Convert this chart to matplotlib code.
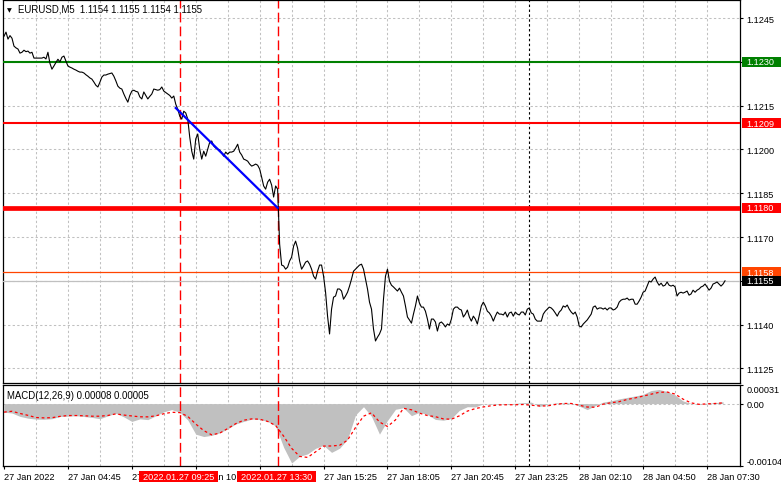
import numpy as np
import matplotlib
matplotlib.use('Agg')
import matplotlib.pyplot as plt
from matplotlib.patches import Rectangle
import matplotlib.transforms as mtransforms

plt.rcParams['font.family'] = ['Liberation Sans', 'DejaVu Sans']

# ---------------- data ----------------
symbol_title = "EURUSD,M5  1.1154 1.1155 1.1154 1.1155"
macd_title = "MACD(12,26,9) 0.00008 0.00005"

# M5 closes, one per bar (bar 0 = first visible bar)
close = [
    1.12388, 1.12402, 1.12378, 1.12390, 1.12381, 1.12354, 1.12348, 1.12344, 1.12330, 1.12333,
    1.12340, 1.12335, 1.12337, 1.12330, 1.12333, 1.12313, 1.12313, 1.12313, 1.12313, 1.12313,
    1.12316, 1.12310, 1.12333, 1.12295, 1.12275, 1.12286, 1.12298, 1.12309, 1.12300, 1.12316,
    1.12320, 1.12303, 1.12286, 1.12282, 1.12279, 1.12275, 1.12272, 1.12268, 1.12265, 1.12265,
    1.12262, 1.12256, 1.12251, 1.12245, 1.12241, 1.12231, 1.12220, 1.12214, 1.12230, 1.12248,
    1.12255, 1.12255, 1.12258, 1.12260, 1.12262, 1.12251, 1.12235, 1.12217, 1.12210, 1.12207,
    1.12190, 1.12175, 1.12162, 1.12185, 1.12200, 1.12203, 1.12199, 1.12197, 1.12180, 1.12173,
    1.12197, 1.12185, 1.12173, 1.12182, 1.12190, 1.12207, 1.12205, 1.12203, 1.12205, 1.12214,
    1.12200, 1.12195, 1.12190, 1.12185, 1.12176, 1.12183, 1.12155, 1.12138, 1.12114, 1.12104,
    1.12131, 1.12125, 1.12104, 1.12042, 1.11994, 1.11967, 1.12036, 1.12053, 1.12001, 1.11967,
    1.11994, 1.11977, 1.12001, 1.12025, 1.12029, 1.12012, 1.12005, 1.12001, 1.11998, 1.11988,
    1.11977, 1.11991, 1.11984, 1.11991, 1.11991, 1.11994, 1.12005, 1.12018, 1.11991, 1.11981,
    1.11967, 1.11964, 1.11960, 1.11950, 1.11943, 1.11946, 1.11950, 1.11946, 1.11933, 1.11905,
    1.11875, 1.11864, 1.11888, 1.11898, 1.11878, 1.11837, 1.11875, 1.11864, 1.11676, 1.11604,
    1.11601, 1.11590, 1.11597, 1.11618, 1.11631, 1.11669, 1.11686, 1.11662, 1.11618, 1.11590,
    1.11601, 1.11614, 1.11618, 1.11607, 1.11590, 1.11566, 1.11556, 1.11583, 1.11604, 1.11604,
    1.11566, 1.11511, 1.11429, 1.11368, 1.11453, 1.11494, 1.11498, 1.11522, 1.11522, 1.11515,
    1.11487, 1.11498, 1.11511, 1.11532, 1.11556, 1.11583, 1.11590, 1.11597, 1.11604, 1.11607,
    1.11590, 1.11556, 1.11522, 1.11477, 1.11453, 1.11385, 1.11344, 1.11357, 1.11368, 1.11385,
    1.11487, 1.11566, 1.11590, 1.11549, 1.11535, 1.11529, 1.11522, 1.11515, 1.11525, 1.11511,
    1.11498, 1.11464, 1.11426, 1.11416, 1.11405, 1.11436, 1.11464, 1.11498, 1.11474, 1.11460,
    1.11460, 1.11446, 1.11419, 1.11385, 1.11419, 1.11419, 1.11409, 1.11378, 1.11405, 1.11409,
    1.11402, 1.11392, 1.11402, 1.11398, 1.11419, 1.11453, 1.11460, 1.11460, 1.11453, 1.11450,
    1.11426, 1.11436, 1.11450, 1.11426, 1.11412, 1.11429, 1.11419, 1.11402, 1.11433, 1.11464,
    1.11477, 1.11464, 1.11446, 1.11440, 1.11429, 1.11412, 1.11429, 1.11443, 1.11436, 1.11436,
    1.11433, 1.11443, 1.11426, 1.11440, 1.11443, 1.11429, 1.11443, 1.11436, 1.11433, 1.11443,
    1.11443, 1.11433, 1.11453, 1.11457, 1.11440, 1.11436, 1.11419, 1.11412, 1.11412, 1.11412,
    1.11436, 1.11446, 1.11453, 1.11460, 1.11457, 1.11450, 1.11440, 1.11429, 1.11443, 1.11450,
    1.11464, 1.11460, 1.11467, 1.11453, 1.11443, 1.11436, 1.11443, 1.11426, 1.11395, 1.11392,
    1.11402, 1.11409, 1.11416, 1.11426, 1.11436, 1.11460, 1.11464, 1.11453, 1.11457, 1.11457,
    1.11453, 1.11457, 1.11450, 1.11457, 1.11457, 1.11450, 1.11453, 1.11460, 1.11477, 1.11484,
    1.11487, 1.11487, 1.11491, 1.11484, 1.11487, 1.11487, 1.11470, 1.11470, 1.11481, 1.11494,
    1.11511, 1.11515, 1.11532, 1.11549, 1.11546, 1.11556, 1.11563, 1.11546, 1.11535, 1.11542,
    1.11532, 1.11535, 1.11546, 1.11535, 1.11532, 1.11535, 1.11529, 1.11498, 1.11508, 1.11511,
    1.11508, 1.11511, 1.11515, 1.11501, 1.11505, 1.11518, 1.11511, 1.11518, 1.11522, 1.11529,
    1.11532, 1.11539, 1.11529, 1.11518, 1.11525, 1.11539, 1.11542, 1.11546, 1.11539, 1.11532,
    1.11539, 1.11550,
]

price_ticks = [1.1125, 1.1140, 1.1155, 1.1170, 1.1185, 1.1200, 1.1215, 1.1230, 1.1245]

# the 12:45 label is completely hidden behind the red time box in the reference
xtick_bars = [0, 32, 64, 96, 128, 160, 192, 224, 256, 288, 320, 352]
xtick_labels = ["27 Jan 2022", "27 Jan 04:45", "27 Jan 07:25", "27 Jan 10:05",
                "", "27 Jan 15:25", "27 Jan 18:05", "27 Jan 20:45",
                "27 Jan 23:25", "28 Jan 02:10", "28 Jan 04:50", "28 Jan 07:30"]
grid_every = 16

level_green = 1.1230
level_red_top = 1.1209
level_red_main = 1.1180
level_orange = 1.1158
bid_price = 1.1155

trend_bars = [86, 137]
trend_prices = [1.12142, 1.11800]

event_bars = [88, 137]
event_labels = ["2022.01.27 09:25", "2022.01.27 13:30"]
day_sep_bar = 263

# MACD readings every 4 bars, in units of 1e-5
macd_step = 4
macd_hist_e5 = [
    -14.2, -15.7, -21.3, -24.3, -25.9, -26.2, -25.2, -21.5, -21.0, -20.1,
    -21.5, -23.0, -25.2, -20.4, -16.2, -22.1, -29.7, -25.5, -26.7, -20.4,
    -13.7, -10.0, -14.5, -27.2, -50.9, -54.9, -52.9, -48.7, -42.1, -34.0,
    -29.7, -25.9, -26.4, -29.7, -37.3, -72.8, -99.0, -88.0, -83.8, -74.5,
    -69.5, -81.3, -74.5, -59.3, -18.8, -5.2, -21.3, -50.9, -28.1, -9.5,
    -6.9, -20.1, -14.5, -18.4, -26.4, -27.7, -24.7, -11.2, -5.2, -5.6,
    -0.2, -1.0, -1.0, -0.5, 0.5, 1.5, 2.5, -5.0, -1.0, 1.0,
    1.5, 1.0, -4.0, -10.0, -3.5, 2.5, 4.6, 7.8, 10.3, 12.7,
    15.4, 21.8, 23.5, 20.1, 14.2, 4.4, 0.2, -1.0, 0.7, 1.5, 3.2,
]
macd_signal_e5 = [
    -14.2, -12.8, -16.4, -19.6, -23.2, -23.8, -23.5, -21.3, -19.9, -19.9,
    -20.3, -21.0, -21.0, -19.8, -17.1, -19.1, -20.6, -22.0, -22.1, -20.4,
    -16.9, -14.5, -15.0, -21.3, -34.0, -45.0, -52.1, -49.2, -41.6, -33.5,
    -27.7, -25.5, -26.0, -29.7, -36.5, -54.2, -74.5, -88.0, -89.7, -80.4,
    -70.8, -70.6, -69.5, -61.0, -39.9, -21.0, -15.4, -30.6, -38.2, -27.2,
    -7.8, -10.3, -15.9, -19.9, -21.8, -25.5, -26.0, -20.4, -12.5, -8.3,
    -5.6, -3.5, -2.2, -1.9, -1.9, -1.5, -2.7, -3.9, -3.9, -1.5,
    0.2, 0.2, -2.7, -5.7, -6.1, -1.0, 1.5, 3.2, 6.9, 9.5,
    12.5, 15.7, 18.8, 19.3, 15.9, 7.4, 1.2, -1.2, -0.5, 0.2, 1.2,
]
macd_ticks = [0.00031, 0.0, -0.00104]
macd_tick_labels = ["0.00031", "0.00", "-0.00104"]

# ---------------- layout ----------------
W, H = 781, 489
fig = plt.figure(figsize=(W / 100, H / 100), dpi=100)
fig.patch.set_facecolor('white')


def px_rect(x0, y0, x1, y1):
    return [x0 / W, 1 - y1 / H, (x1 - x0) / W, (y1 - y0) / H]


ax = fig.add_axes(px_rect(3, 1, 740, 384))
ax2 = fig.add_axes(px_rect(3, 386, 740, 467))

GRID = '#C0C0C0'
FS = 6.6
n = len(close)
xmax = 368.5
for a in (ax, ax2):
    a.set_xlim(-0.5, xmax)
    for s in a.spines.values():
        s.set_color('black')
        s.set_linewidth(0.9)
    for b in range(grid_every, int(xmax), grid_every):
        a.axvline(b, color=GRID, lw=0.75, dashes=(2.2, 2.2), zorder=1)
    for b in event_bars:
        a.axvline(b, color='#FF0000', lw=1.0, dashes=(7, 3), zorder=2)
    a.axvline(day_sep_bar, color='black', lw=0.8, dashes=(2.2, 2.2), zorder=2)

# ---- main price panel ----
ax.set_ylim(1.11200, 1.12512)
for v in price_ticks:
    ax.axhline(v, color=GRID, lw=0.75, dashes=(2.2, 2.2), zorder=1)
ax.yaxis.tick_right()
ax.set_yticks(price_ticks)
ax.set_yticklabels([f"{v:.4f}" for v in price_ticks])
ax.tick_params(axis='y', length=2.5, width=0.8, pad=2, labelsize=FS, colors='black')
ax.set_xticks(xtick_bars)
ax.tick_params(axis='x', length=0, labelbottom=False)

ax.axhline(level_green, color='#008000', lw=1.5, zorder=3)
ax.axhline(level_red_top, color='#FF0000', lw=1.5, zorder=3)
ax.axhline(level_red_main, color='#FF0000', lw=3.4, zorder=3)
ax.axhline(level_orange, color='#FF4500', lw=0.9, zorder=3)
ax.axhline(bid_price, color='#C0C0C0', lw=0.9, zorder=3)

ax.plot(np.arange(n), close, color='black', lw=0.8, zorder=4)
ax.plot(trend_bars, trend_prices, color='#0000FF', lw=1.6, zorder=5)

# right-side price label boxes
btrans = mtransforms.blended_transform_factory(ax.transAxes, ax.transData)
ppx = (1.12512 - 1.11200) / 383.0
box_x0 = (742 - 3) / 737.0
box_w = (781 - 742) / 737.0
for val, col in [(level_green, '#008000'), (level_red_top, '#FF0000'),
                 (level_red_main, '#FF0000'), (level_orange, '#FF4500'),
                 (bid_price, '#000000')]:
    ax.add_patch(Rectangle((box_x0, val - 5.2 * ppx), box_w, 10.4 * ppx, transform=btrans,
                           facecolor=col, edgecolor='none', clip_on=False, zorder=10))
    ax.text((746 - 3) / 737.0, val, f"{val:.4f}", transform=btrans, color='white',
            fontsize=FS, va='center', ha='left', clip_on=False, zorder=11)

# title
fig.text(7 / W, 1 - 11 / H, '\u25BC', fontsize=4.5, va='center', ha='left',
         family=['DejaVu Sans'])
fig.text(18 / W, 1 - 10 / H, symbol_title, fontsize=6.9, va='center', ha='left')

# ---- MACD panel ----
ax2.set_ylim(-0.00104, 0.00031)
mx = np.arange(len(macd_hist_e5)) * macd_step
hist = np.array(macd_hist_e5) * 1e-5
sig = np.array(macd_signal_e5) * 1e-5
ax2.fill_between(mx, 0, hist, color='#C0C0C0', linewidth=0, zorder=1.5)
ax2.axhline(0, color=GRID, lw=0.75, dashes=(2.2, 2.2), zorder=1.6)
ax2.plot(mx, sig, color='#FF0000', lw=0.9, dashes=(2.2, 2.2), zorder=3)

ax2.yaxis.tick_right()
ax2.set_yticks(macd_ticks)
ax2.set_yticklabels(macd_tick_labels)
ax2.tick_params(axis='y', length=2.5, width=0.8, pad=2, labelsize=FS)
ylbls = ax2.get_yticklabels()
ylbls[0].set_va('top')
ylbls[2].set_va('bottom')

ax2.set_xticks(xtick_bars)
ax2.set_xticklabels(xtick_labels)
ax2.tick_params(axis='x', length=2.5, width=0.8, pad=2, labelsize=FS, direction='out')
for lbl in ax2.get_xticklabels():
    lbl.set_ha('left')

fig.text(7 / W, 1 - 396 / H, macd_title, fontsize=6.9, va='center', ha='left')

# event labels on the time axis
etrans = mtransforms.blended_transform_factory(ax2.transData, ax2.transAxes)
bw = 79 / 2.0
for b, lab in zip(event_bars, event_labels):
    ax2.add_patch(Rectangle((b - bw / 2 - 0.6, -(483 - 467) / 81.0), bw, 11 / 81.0,
                            transform=etrans, facecolor='#FF0000', edgecolor='none',
                            clip_on=False, zorder=10))
    ax2.text(b - 0.6, -(477.5 - 467) / 81.0, lab, transform=etrans, color='white',
             fontsize=FS, ha='center', va='center', clip_on=False, zorder=11)

fig.savefig('out.png', dpi=100)
